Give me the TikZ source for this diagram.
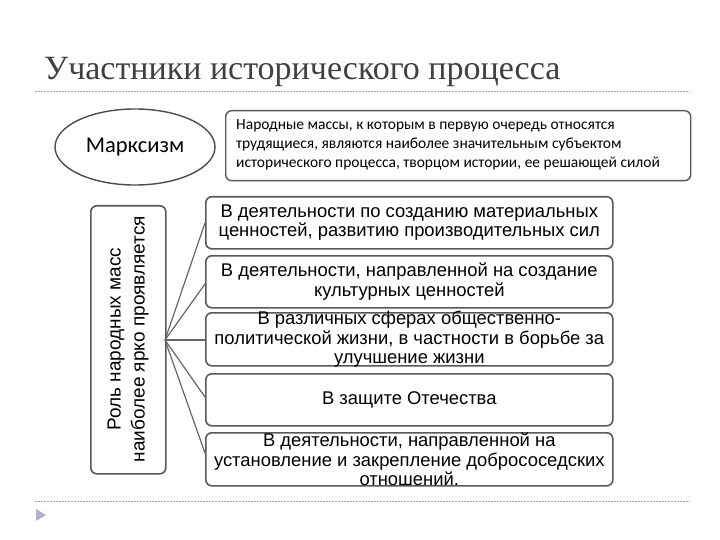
\documentclass[tikz,border=0pt]{standalone}
\usepackage{fontspec}
\setmainfont{Liberation Sans}
\newfontfamily\serifru{Liberation Serif}
\newfontfamily\calib{Carlito}
\usetikzlibrary{shapes.geometric}
\begin{document}
\begin{tikzpicture}[x=1pt,y=-1pt,
  bx/.style={draw=black!65,line width=1.6pt,rounded corners=6pt},
  ln/.style={draw=black!60,line width=1.2pt},
  rule/.style={draw=black!35,dashed,dash pattern=on 2pt off 1pt,line width=0.6pt}]
\path[fill=white] (0,0) rectangle (720,540);
\node[anchor=base west,inner sep=0,text=black!75,font=\serifru\fontsize{34}{36}\selectfont] (title) at (44,80) {Участники исторического процесса};
\coordinate (r1a) at (35,91); \coordinate (r1b) at (690,91);
\draw[rule] (r1a) -- (r1b);
\node[ellipse,draw=black!70,line width=1.4pt,minimum width=160,minimum height=76,font=\calib\fontsize{22.5}{24}\selectfont] (marx) at (135,147) {Марксизм};
\node[bx,line width=1.4pt,anchor=north west,minimum width=465,minimum height=70,inner sep=0] (top) at (225,110) {};
\node[anchor=west,align=left,font=\calib\fontsize{15.5}{19}\selectfont,inner sep=0] (toptxt) at (236,145) {Народные массы, к которым в первую очередь относятся\\трудящиеся, являются наиболее значительным субъектом\\исторического процесса, творцом истории, ее решающей силой};
\node[bx,anchor=north west,minimum width=75,minimum height=268,inner sep=0] (left) at (90,205) {};
\node[rotate=90,align=center,font=\fontsize{19}{24}\selectfont] (lefttxt) at (128,339) {Роль народных масс\\наиболее ярко проявляется};
\coordinate (hub) at (165,340);
\foreach \n/\y/\h/\t in {
  b1/196/52/{В деятельности по созданию материальных\\ценностей, развитию производительных сил},
  b2/255/52/{В деятельности, направленной на создание\\культурных ценностей},
  b3/312/53/{В различных сферах общественно-\\политической жизни, в частности в борьбе за\\улучшение жизни},
  b4/373/52/{В защите Отечества},
  b5/432/53/{В деятельности, направленной на\\установление и закрепление добрососедских\\отношений.}}{
  \node[bx,anchor=north west,minimum width=407,minimum height=\h,inner sep=0] (\n) at (205,\y) {};
  \node[align=center,font=\fontsize{18.4}{19.5}\selectfont,inner sep=0] (\n t) at (\n.center) {\t};
}
\coordinate (e1) at (205,223); \coordinate (e2) at (205,284);
\coordinate (e3) at (205,340); \coordinate (e4) at (205,397);
\coordinate (e5) at (205,453);
\foreach \e in {e1,e2,e3,e4,e5} \draw[ln] (hub) -- (\e);
\coordinate (r2a) at (35,501); \coordinate (r2b) at (690,501);
\draw[rule] (r2a) -- (r2b);
\fill[blue!25!gray!50] (36,509) -- (46,515) -- (36,521) -- cycle;
\end{tikzpicture}
\end{document}
